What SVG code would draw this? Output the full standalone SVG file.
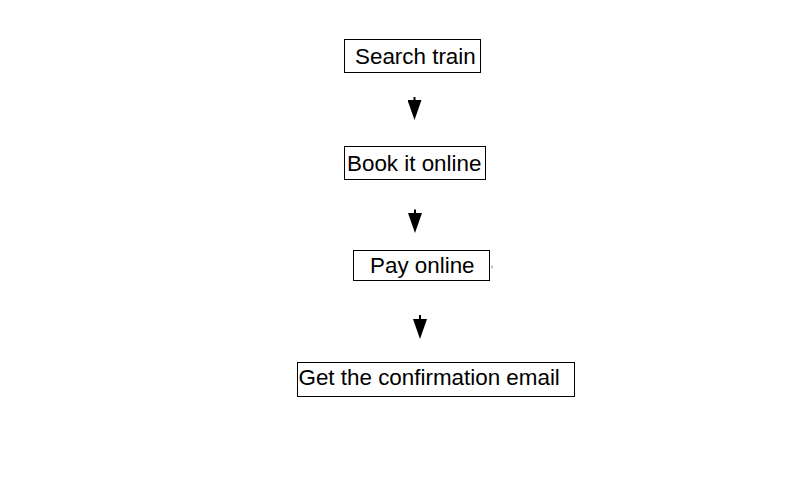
<svg xmlns="http://www.w3.org/2000/svg" width="800" height="500" viewBox="0 0 800 500">
  <style>
    .box { fill: #ffffff; stroke: #000000; stroke-width: 1; }
    .lbl { font-family: "Liberation Sans", Arial, sans-serif; font-size: 22.4px; fill: #000000; }
    .conn { stroke: #000000; stroke-width: 2; fill: none; marker-end: url(#arrow); }
  </style>
  <defs>
    <marker id="arrow" markerUnits="userSpaceOnUse" markerWidth="20" markerHeight="14" viewBox="0 0 20 14" refX="0" refY="7" orient="auto">
      <path d="M0,0 L20,7 L0,14 Z" fill="#000000"/>
    </marker>
  </defs>
  <rect width="800" height="500" fill="#ffffff"/>

  <g id="connectors">
    <line class="conn" x1="414.5" y1="97" x2="414.5" y2="100"/>
    <line class="conn" x1="415" y1="209.5" x2="415" y2="213"/>
    <line class="conn" x1="420" y1="315" x2="420" y2="319"/>
  </g>

  <g id="node-search">
    <rect class="box" x="344.5" y="39.5" width="136" height="33"/>
    <text class="lbl" x="355" y="64">Search train</text>
  </g>

  <g id="node-book">
    <rect class="box" x="344.5" y="146.5" width="141" height="33"/>
    <text class="lbl" x="347" y="171">Book it online</text>
  </g>

  <g id="node-pay">
    <rect class="box" x="353.5" y="250.5" width="136" height="30"/>
    <text class="lbl" x="370" y="273">Pay online</text>
    <line x1="492" y1="265.5" x2="492" y2="268.5" stroke="#888888" stroke-width="1"/>
  </g>

  <g id="node-email">
    <rect class="box" x="297.5" y="362.5" width="277" height="34"/>
    <text class="lbl" x="298.5" y="385">Get the confirmation email</text>
  </g>
</svg>
